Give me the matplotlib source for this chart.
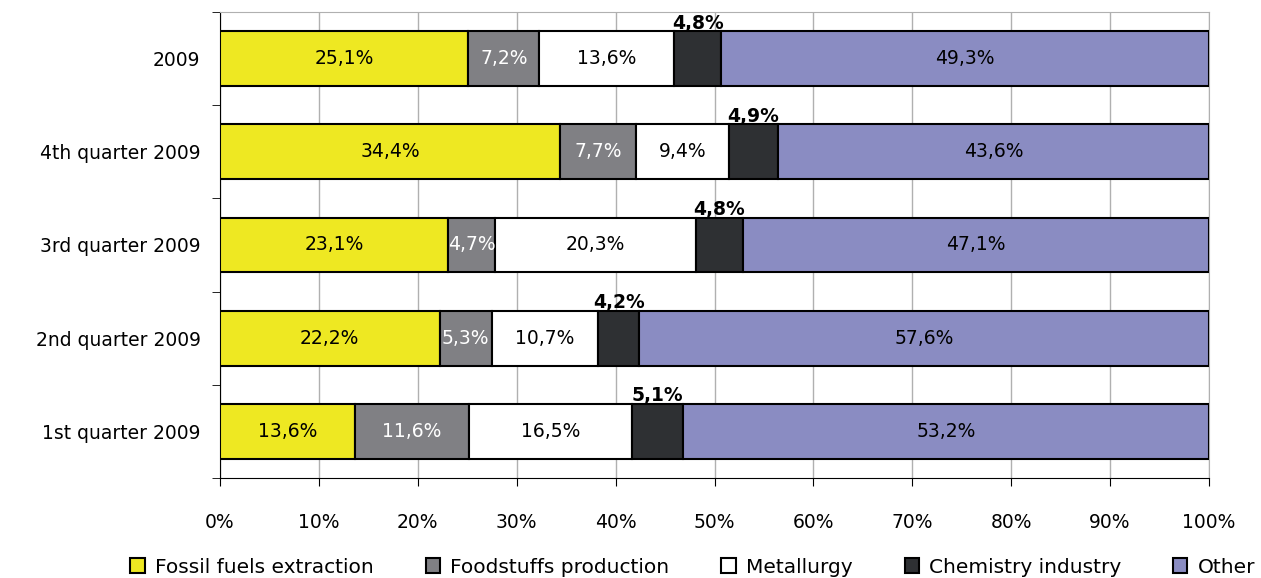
import numpy as np
import matplotlib.pyplot as plt

plt.rcParams['font.family'] = ['DejaVu Sans']

periods = ['1st quarter 2009', '2nd quarter 2009', '3rd quarter 2009',
           '4th quarter 2009', '2009']
sectors = ['Fossil fuels extraction', 'Foodstuffs production', 'Metallurgy',
           'Chemistry industry', 'Other']
fossil = [13.6, 22.2, 23.1, 34.4, 25.1]
food = [11.6, 5.3, 4.7, 7.7, 7.2]
metal = [16.5, 10.7, 20.3, 9.4, 13.6]
chem = [5.1, 4.2, 4.8, 4.9, 4.8]
other = [53.2, 57.6, 47.1, 43.6, 49.3]

colors = ['#EEE822', '#808084', '#FFFFFF', '#2E3033', '#8A8CC2']
text_colors = ['black', 'white', 'black', None, 'black']

fig = plt.figure(figsize=(12.61, 5.78), dpi=100)
ax = fig.add_axes([220 / 1261, 1 - 478 / 578, 989 / 1261, 466 / 578])

y = np.arange(len(periods))
left = np.zeros(len(periods))
for i, vals in enumerate([fossil, food, metal, chem, other]):
    vals = np.array(vals)
    ax.barh(y, vals, left=left, height=0.59, color=colors[i],
            edgecolor='black', linewidth=1.5, label=sectors[i], zorder=3)
    for j in range(len(periods)):
        txt = f'{vals[j]:.1f}%'.replace('.', ',')
        cx = left[j] + vals[j] / 2
        if text_colors[i] is None:
            ax.text(cx, y[j] + 0.28, txt, ha='center', va='bottom',
                    fontsize=13.5, fontweight='bold', color='black', zorder=4)
        else:
            ax.text(cx, y[j], txt, ha='center', va='center',
                    fontsize=13.5, color=text_colors[i], zorder=4)
    left += vals

ax.set_xlim(0, 100)
ax.set_ylim(-0.5, len(periods) - 0.5)
ax.set_xticks(np.arange(0, 101, 10))
ax.set_xticklabels([f'{v}%' for v in range(0, 101, 10)], fontsize=13.5)
ax.set_yticks(y)
ax.set_yticklabels(periods, fontsize=13.5)
ax.set_yticks(np.arange(-0.5, len(periods), 1), minor=True)
ax.tick_params(axis='y', which='major', length=0, pad=14)
ax.tick_params(axis='y', which='minor', length=6, direction='out')
ax.tick_params(axis='x', length=6, pad=19)
ax.grid(axis='x', color='#B0B0B0', linewidth=1, zorder=0)

for s in ['top', 'right']:
    ax.spines[s].set_color('#B0B0B0')
ax.spines['left'].set_color('black')
ax.spines['bottom'].set_color('black')

ax.legend(loc='center', bbox_to_anchor=(0.478, -0.191), ncol=5,
          frameon=False, fontsize=14.5, handlelength=0.7, handleheight=0.7,
          handletextpad=0.5, columnspacing=2.6)

fig.savefig('out.png', dpi=100)
